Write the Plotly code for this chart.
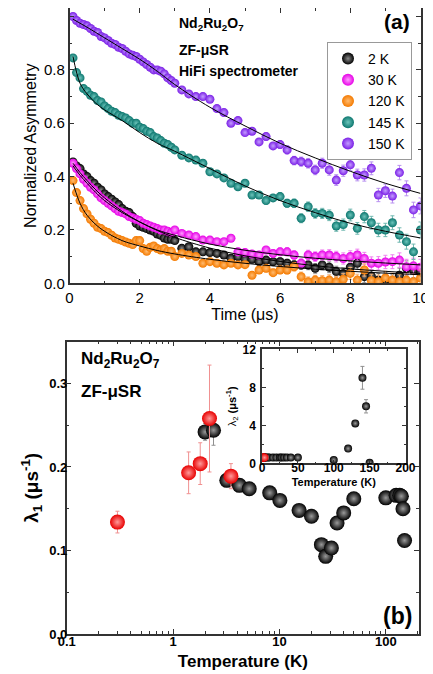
import plotly.graph_objects as go

# ---------------- panel (a) data ----------------
time_us = [0.1, 0.2, 0.3, 0.4, 0.5, 0.6, 0.7, 0.8, 0.9, 1.0,
           1.1, 1.2, 1.3, 1.4, 1.5, 1.6, 1.7, 1.8, 1.9, 2.0,
           2.1, 2.2, 2.3, 2.4, 2.5, 2.6, 2.7, 2.8, 2.9, 3.0,
           3.2, 3.4, 3.6, 3.8, 4.0, 4.2, 4.4, 4.6, 4.8, 5.0,
           5.2, 5.4, 5.6, 5.8, 6.0, 6.2, 6.4, 6.6, 6.8, 7.0,
           7.2, 7.4, 7.6, 7.8, 8.0, 8.2, 8.4, 8.6, 8.8, 9.0,
           9.2, 9.4, 9.6, 9.8, 10.0]

asym_2K = [0.455, 0.44, 0.43, 0.41, 0.4, 0.385, 0.375, 0.36, 0.35, 0.335,
           0.325, 0.315, 0.305, 0.295, 0.28, 0.27, 0.265, 0.25, 0.225, 0.215,
           0.21, 0.205, 0.2, 0.195, 0.185, 0.18, 0.17, 0.165, 0.165, 0.16,
           0.131, 0.137, 0.118, 0.118, 0.115, 0.112, 0.106, 0.094, 0.1, 0.09,
           0.09, 0.081, 0.087, 0.081, 0.081, 0.075, 0.069, 0.069, 0.069, 0.056,
           0.069, 0.06, 0.044, 0.037, 0.06, 0.075, 0.025, 0.027, 0.012, 0.015,
           0.006, 0.03, 0.056, 0.05, 0.04]
asym_30K = [0.45, 0.43, 0.41, 0.39, 0.375, 0.36, 0.35, 0.335, 0.32, 0.31,
            0.3, 0.29, 0.28, 0.27, 0.265, 0.26, 0.25, 0.245, 0.24, 0.235,
            0.225, 0.22, 0.215, 0.21, 0.205, 0.2, 0.2, 0.195, 0.19, 0.2,
            0.187, 0.181, 0.175, 0.162, 0.162, 0.156, 0.156, 0.169, 0.118, 0.115,
            0.11, 0.106, 0.125, 0.112, 0.118, 0.118, 0.106, 0.075, 0.106, 0.1,
            0.106, 0.106, 0.1, 0.093, 0.1, 0.106, 0.093, 0.075, 0.075, 0.08,
            0.081, 0.087, 0.062, 0.065, 0.06]
asym_120K = [0.385, 0.34, 0.31, 0.28, 0.26, 0.24, 0.225, 0.21, 0.205, 0.195,
             0.19, 0.18, 0.17, 0.165, 0.16, 0.155, 0.15, 0.145, 0.16, 0.16,
             0.13, 0.12, 0.135, 0.14, 0.13, 0.125, 0.13, 0.12, 0.12, 0.1,
             0.112, 0.106, 0.1, 0.075, 0.081, 0.075, 0.069, 0.075, 0.069, 0.07,
             0.03, 0.05, 0.056, 0.04, 0.05, 0.05, 0.062, 0.025, 0.006, 0.012,
             0.01, 0.012, 0.006, 0.015, 0.037, 0.012, 0.05, 0.01, 0.006, 0.02,
             0.012, 0.006, 0.012, 0.006, 0.02]
asym_145K = [0.845, 0.79, 0.77, 0.73, 0.72, 0.705, 0.7, 0.685, 0.68, 0.665,
             0.655, 0.645, 0.64, 0.63, 0.625, 0.62, 0.61, 0.6, 0.6, 0.585,
             0.58, 0.57, 0.565, 0.55, 0.545, 0.535, 0.525, 0.52, 0.51, 0.5,
             0.48, 0.47, 0.462, 0.45, 0.418, 0.41, 0.395, 0.375, 0.362, 0.375,
             0.331, 0.331, 0.31, 0.32, 0.325, 0.3, 0.3, 0.244, 0.287, 0.262,
             0.262, 0.255, 0.215, 0.22, 0.256, 0.206, 0.25, 0.227, 0.2, 0.2,
             0.227, 0.181, 0.156, 0.118, 0.2]
asym_150K = [1.0, 0.985, 0.975, 0.97, 0.965, 0.955, 0.945, 0.94, 0.925, 0.92,
             0.91, 0.9, 0.895, 0.885, 0.88, 0.87, 0.86, 0.855, 0.85, 0.84,
             0.83, 0.82, 0.81, 0.8, 0.8, 0.795, 0.785, 0.77, 0.76, 0.75,
             0.725, 0.71, 0.7, 0.7, 0.69, 0.655, 0.64, 0.6, 0.61, 0.565,
             0.57, 0.53, 0.55, 0.515, 0.52, 0.5, 0.46, 0.456, 0.45, 0.425,
             0.45, 0.425, 0.387, 0.422, 0.444, 0.406, 0.406, 0.431, 0.331, 0.347,
             0.327, 0.415, 0.356, 0.275, 0.29]
asym_err = [0.003, 0.003, 0.003, 0.003, 0.003, 0.003, 0.003, 0.003, 0.003, 0.003,
            0.004, 0.004, 0.004, 0.004, 0.004, 0.004, 0.004, 0.004, 0.004, 0.004,
            0.005, 0.005, 0.005, 0.005, 0.005, 0.005, 0.005, 0.005, 0.005, 0.005,
            0.007, 0.007, 0.008, 0.008, 0.009, 0.009, 0.01, 0.01, 0.011, 0.011,
            0.012, 0.012, 0.013, 0.013, 0.014, 0.015, 0.016, 0.017, 0.018, 0.018,
            0.019, 0.02, 0.02, 0.021, 0.022, 0.022, 0.023, 0.024, 0.025, 0.025,
            0.026, 0.027, 0.028, 0.029, 0.03]

fit_t = [0.1, 0.3, 0.5, 0.75, 1.0, 1.5, 2.0, 2.5, 3.0, 4.0, 5.0, 6.0, 7.0, 8.0, 9.0, 10.0]
fit_2K = [0.45, 0.415, 0.385, 0.35, 0.32, 0.27, 0.23, 0.198, 0.172, 0.132, 0.103, 0.082, 0.066, 0.054, 0.045, 0.037]
fit_30K = [0.44, 0.405, 0.375, 0.34, 0.31, 0.265, 0.23, 0.2, 0.18, 0.147, 0.124, 0.107, 0.094, 0.084, 0.076, 0.069]
fit_120K = [0.375, 0.3, 0.255, 0.22, 0.195, 0.16, 0.14, 0.123, 0.11, 0.09, 0.075, 0.063, 0.053, 0.045, 0.038, 0.032]
fit_145K = [0.85, 0.75, 0.71, 0.675, 0.65, 0.61, 0.565, 0.525, 0.495, 0.43, 0.365, 0.31, 0.265, 0.225, 0.195, 0.17]
fit_150K = [0.99, 0.975, 0.96, 0.94, 0.92, 0.88, 0.84, 0.795, 0.745, 0.66, 0.59, 0.525, 0.47, 0.42, 0.375, 0.337]

series_names = ["2 K", "30 K", "120 K", "145 K", "150 K"]

# ---------------- panel (b) data ----------------
temp_black = [2.0, 2.4, 3.2, 4.2, 5.2, 8.1, 10.1, 15.3, 20.0, 24.8, 27.2, 30.8,
              34.8, 40.2, 50.0, 100.0, 125.0, 135.0, 140.0, 145.0, 150.0]
lam1_black = [0.242, 0.244, 0.184, 0.178, 0.174, 0.169, 0.160, 0.148, 0.141, 0.107, 0.093, 0.103,
              0.133, 0.145, 0.162, 0.163, 0.166, 0.166, 0.165, 0.150, 0.112]
lam1_black_err = [0.01, 0.018, 0.004, 0.003, 0.003, 0.003, 0.003, 0.003, 0.003, 0.003, 0.003, 0.003,
                  0.003, 0.003, 0.003, 0.003, 0.003, 0.003, 0.003, 0.003, 0.003]
temp_red = [0.3, 1.4, 1.8, 2.2, 3.5]
lam1_red = [0.134, 0.193, 0.204, 0.258, 0.189]
lam1_red_err = [0.013, 0.025, 0.025, 0.064, 0.015]

# inset data
temp_inset_black = [2.0, 2.4, 3.2, 4.2, 5.2, 8.1, 10.1, 15.3, 20.0, 24.8, 27.2, 30.8,
                    34.8, 40.2, 50.0, 100.0, 120.0, 130.0, 140.0, 145.0, 150.0]
lam2_black = [0.6, 0.6, 0.6, 0.6, 0.6, 0.6, 0.6, 0.6, 0.6, 0.6, 0.6, 0.6,
              0.6, 0.6, 0.6, 0.35, 1.55, 4.2, 9.0, 6.0, 0.05]
lam2_black_err = [0.05, 0.05, 0.05, 0.05, 0.05, 0.05, 0.05, 0.05, 0.05, 0.05, 0.05, 0.05,
                  0.05, 0.05, 0.05, 0.1, 0.2, 0.3, 1.2, 0.7, 0.1]
temp_inset_red = [0.3, 1.4, 1.8, 2.2, 3.5]
lam2_red = [0.55, 0.6, 0.6, 0.6, 0.6]

# ---------------- styling ----------------
FONT = "Liberation Sans, Arial, sans-serif"
edge_cols = ["#000000", "#e600e6", "#f47a00", "#0d776f", "#7b1fe6"]
center_cols = ["#8a8a8a", "#ff9cff", "#ffbb70", "#6cc4bb", "#c39cff"]
err_cols = ["#808080", "#f080f0", "#f8b070", "#70b8b0", "#b890f0"]
asym_all = [asym_2K, asym_30K, asym_120K, asym_145K, asym_150K]
fit_all = [fit_2K, fit_30K, fit_120K, fit_145K, fit_150K]

fig = go.Figure()

for name, ys, ec, cc, erc in zip(series_names, asym_all, edge_cols, center_cols, err_cols):
    fig.add_trace(go.Scatter(
        x=time_us, y=ys, mode="markers", name=name,
        error_y=dict(type="data", array=asym_err, color=erc, thickness=1, width=2),
        marker=dict(size=9, color=ec, line=dict(width=0),
                    gradient=dict(type="radial", color=cc)),
        xaxis="x", yaxis="y"))

for ys in fit_all:
    fig.add_trace(go.Scatter(
        x=fit_t, y=ys, mode="lines", line=dict(color="black", width=1, shape="spline"),
        showlegend=False, hoverinfo="skip", xaxis="x", yaxis="y"))

# panel (b)
fig.add_trace(go.Scatter(
    x=temp_black, y=lam1_black, mode="markers", showlegend=False,
    error_y=dict(type="data", array=lam1_black_err, color="#909090", thickness=1, width=2),
    marker=dict(size=15, color="#000000", line=dict(width=0),
                gradient=dict(type="radial", color="#9a9a9a")),
    xaxis="x2", yaxis="y2"))
fig.add_trace(go.Scatter(
    x=temp_red, y=lam1_red, mode="markers", showlegend=False,
    error_y=dict(type="data", array=lam1_red_err, color="#f09090", thickness=1, width=2),
    marker=dict(size=15, color="#e80000", line=dict(width=0),
                gradient=dict(type="radial", color="#ff9a9a")),
    xaxis="x2", yaxis="y2"))

# inset
fig.add_trace(go.Scatter(
    x=temp_inset_black, y=lam2_black, mode="markers", showlegend=False,
    error_y=dict(type="data", array=lam2_black_err, color="#909090", thickness=1, width=2),
    marker=dict(size=8, color="#000000", line=dict(width=0),
                gradient=dict(type="radial", color="#9a9a9a")),
    xaxis="x3", yaxis="y3"))
fig.add_trace(go.Scatter(
    x=temp_inset_red, y=lam2_red, mode="markers", showlegend=False,
    marker=dict(size=8, color="#e80000", line=dict(width=0),
                gradient=dict(type="radial", color="#ff9a9a")),
    xaxis="x3", yaxis="y3"))

W, H = 433, 674
PAGE_OFFSET = 8  # default page margin around the figure

def px_x(p):
    return min(1.0, max(0.0, (p - PAGE_OFFSET) / W))

def px_y(p):
    return min(1.0, max(0.0, 1 - (p - PAGE_OFFSET) / H))

axis_common = dict(showline=True, linecolor="#333", linewidth=1.5, mirror="ticks",
                   ticks="inside", tickcolor="#333", showgrid=False, zeroline=False,
                   automargin=False)

fig.update_layout(
    template="none",
    width=W, height=H, margin=dict(l=0, r=0, t=0, b=0, autoexpand=False),
    paper_bgcolor="white", plot_bgcolor="rgba(0,0,0,0)",
    font=dict(family=FONT, color="black"),
    showlegend=True,
    legend=dict(x=px_x(327), y=px_y(42), xanchor="left", yanchor="top",
                bordercolor="#999", borderwidth=1, bgcolor="white",
                font=dict(size=14, family=FONT), itemsizing="constant",
                tracegroupgap=0),
    xaxis=dict(domain=[px_x(69.5), px_x(420.5)], range=[0, 10], anchor="y",
               dtick=2, ticklen=5, tickfont=dict(size=15),
               minor=dict(ticks="inside", dtick=1, ticklen=3, tickcolor="#333"),
               title=dict(text="Time (μs)", font=dict(size=16), standoff=4),
               **axis_common),
    yaxis=dict(domain=[px_y(283.3), px_y(8)], range=[0, 1.032], anchor="x",
               dtick=0.2, tickformat=".1f", ticklen=5, tickfont=dict(size=15),
               ticklabelstandoff=0,
               minor=dict(ticks="inside", dtick=0.1, ticklen=3, tickcolor="#333"),
               title=dict(text="Normalized Asymmetry", font=dict(size=16), standoff=3),
               **axis_common),
    xaxis2=dict(domain=[px_x(66.7), px_x(419)], type="log", range=[-1, 2.312], anchor="y2",
                tickvals=[0.1, 1, 10, 100], ticktext=["0.1", "1", "10", "100"],
                ticklen=5, tickfont=dict(size=13, weight="bold"),
                ticklabelstandoff=-5,
                minor=dict(ticks="inside", ticklen=3, tickcolor="#333", dtick="D1"),
                title=dict(text="<b>Temperature (K)</b>", font=dict(size=17), standoff=7),
                **axis_common),
    yaxis2=dict(domain=[px_y(634), px_y(341.7)], range=[0, 0.35], anchor="x2",
                dtick=0.1, tickformat=".1f", ticklen=5, tickfont=dict(size=13, weight="bold"),
                ticklabelstandoff=-5,
                minor=dict(ticks="inside", dtick=0.05, ticklen=3, tickcolor="#333"),
                title=dict(text="<b>λ<sub>1</sub> (μs<sup>-1</sup>)</b>", font=dict(size=19), standoff=6),
                **axis_common),
    xaxis3=dict(domain=[px_x(262), px_x(405.5)], range=[0, 200], anchor="y3",
                dtick=50, ticklen=4, tickfont=dict(size=12, weight="bold"),
                ticklabelstandoff=-7,
                minor=dict(ticks="inside", dtick=25, ticklen=2, tickcolor="#333"),
                title=dict(text="<b>Temperature (K)</b>", font=dict(size=11), standoff=4),
                **axis_common),
    yaxis3=dict(domain=[px_y(463.3), px_y(349.3)], range=[0, 12], anchor="x3",
                dtick=4, ticklen=4, tickfont=dict(size=12, weight="bold"),
                ticklabelstandoff=2,
                minor=dict(ticks="inside", dtick=2, ticklen=2, tickcolor="#333"),
                title=dict(text="λ<sub>2</sub> <b>(μs<sup>-1</sup>)</b>", font=dict(size=11), standoff=4),
                **axis_common),
)

ann = [
    dict(text="<b>Nd<sub>2</sub>Ru<sub>2</sub>O<sub>7</sub></b>", x=px_x(177), y=px_y(24), size=14),
    dict(text="<b>ZF-μSR</b>", x=px_x(177), y=px_y(50), size=14),
    dict(text="<b>HiFi spectrometer</b>", x=px_x(177), y=px_y(71), size=14),
    dict(text="<b>(a)</b>", x=px_x(382), y=px_y(21), size=21),
    dict(text="<b>Nd<sub>2</sub>Ru<sub>2</sub>O<sub>7</sub></b>", x=px_x(79), y=px_y(360), size=17),
    dict(text="<b>ZF-μSR</b>", x=px_x(79), y=px_y(391), size=17),
    dict(text="<b>(b)</b>", x=px_x(381), y=px_y(616), size=23),
]
for a in ann:
    fig.add_annotation(text=a["text"], x=a["x"], y=a["y"], xref="paper", yref="paper",
                       xanchor="left", yanchor="middle", showarrow=False,
                       font=dict(size=a["size"], family=FONT, color="black"))

fig.write_html("out.html")
